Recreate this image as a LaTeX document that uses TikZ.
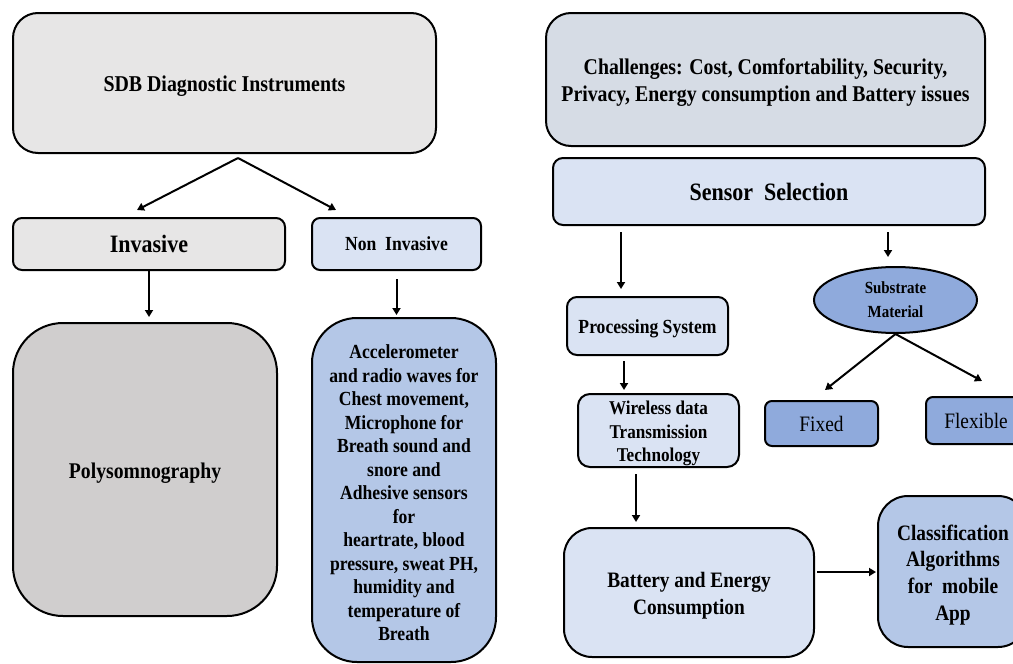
\documentclass[tikz,border=0pt]{standalone}
\usepackage{fontspec}
\setmainfont{Liberation Serif}[FakeStretch=0.88]
\usetikzlibrary{arrows.meta,shapes.geometric,calc}
\definecolor{greyA}{HTML}{E7E6E6}
\definecolor{greyB}{HTML}{D0CECE}
\definecolor{blueA}{HTML}{DAE3F3}
\definecolor{blueB}{HTML}{B4C7E7}
\definecolor{blueC}{HTML}{8FAADC}
\definecolor{slateA}{HTML}{D6DCE5}
\newcommand\fsz[2]{\fontsize{#1}{#2}\selectfont}
% a taller first line sets the text a little lower in its box
\newcommand\txtdrop{\rule{0pt}{1em}}
\begin{document}
\begin{tikzpicture}[x=1pt,y=-1pt,
  box/.style={draw=black, line width=2pt, align=center, inner sep=0pt,
    font=\bfseries, text=black},
  arr/.style={-{Triangle[length=7pt,width=8pt]}, line width=2pt}]
\useasboundingbox (0,0) rectangle (1013,664);
\clip (0,0) rectangle (1013,664);
\fill[white] (0,0) rectangle (1013,664);

% ---- left column: diagnostic instruments ----
\node[box, fill=greyA, rounded corners=25pt, minimum width=423pt, minimum height=140pt,
  font=\bfseries\fsz{22.6}{27}] (sdb) at (224.5,83) {\txtdrop SDB Diagnostic Instruments};
\node[box, fill=greyA, rounded corners=9pt, minimum width=272pt, minimum height=52pt,
  font=\bfseries\fsz{25}{30}] (inv) at (149,244) {Invasive};
\node[box, fill=blueA, rounded corners=8pt, minimum width=169pt, minimum height=52pt,
  font=\bfseries\fsz{20}{24}] (noninv) at (396.5,244) {Non\ \ Invasive};
\node[box, fill=greyB, rounded corners=50pt, minimum width=264pt, minimum height=293pt,
  font=\bfseries\fsz{22.4}{27}] (poly) at (145,469.5) {\txtdrop Polysomnography};
\node[box, fill=blueB, rounded corners=45pt, minimum width=184pt, minimum height=344pt,
  font=\bfseries\fsz{20}{23.5}] (acc) at (404,490)
  {\txtdrop Accelerometer\\and radio waves for\\Chest movement,\\Microphone for\\Breath sound and\\snore and\\Adhesive sensors\\for\\heartrate, blood\\pressure, sweat PH,\\humidity and\\temperature of\\Breath};

% ---- right column: sensor design ----
\node[box, fill=slateA, rounded corners=25pt, minimum width=439pt, minimum height=133pt,
  font=\bfseries\fsz{22.5}{27}] (chal) at (765.5,79.5)
  {\txtdrop Challenges: Cost, Comfortability, Security,\\Privacy, Energy consumption and Battery issues};
\node[box, fill=blueA, rounded corners=10pt, minimum width=432pt, minimum height=67pt,
  font=\bfseries\fsz{25}{30}] (sens) at (769,191.5) {Sensor\ \ Selection};
\node[box, ellipse, fill=blueC, minimum width=163pt, minimum height=66pt,
  font=\bfseries\fsz{17}{24}] (subs) at (895.5,300) {Substrate\\Material};
\node[box, fill=blueA, rounded corners=10pt, minimum width=161pt, minimum height=58pt,
  font=\bfseries\fsz{20}{23}] (proc) at (647.5,326) {\txtdrop Processing System};
\node[box, fill=blueA, rounded corners=12pt, minimum width=161pt, minimum height=73pt,
  font=\bfseries\fsz{19.5}{23.3}] (wire) at (658.5,430.5) {\txtdrop Wireless data\\Transmission\\Technology};
\node[box, fill=blueA, rounded corners=28pt, minimum width=250pt, minimum height=129pt,
  font=\bfseries\fsz{22}{26.7}] (batt) at (689,592.5) {\txtdrop Battery and Energy\\Consumption};
\node[box, fill=blueB, rounded corners=30pt, minimum width=150pt, minimum height=151pt,
  font=\bfseries\fsz{22}{26.7}] (clas) at (953,571.5) {\txtdrop Classification\\Algorithms\\for\ \ mobile\\App};
\node[box, fill=blueC, rounded corners=7pt, minimum width=113pt, minimum height=45pt,
  font=\fsz{22}{26}] (fixed) at (821.5,423.5) {Fixed};
\node[box, fill=blueC, rounded corners=7pt, minimum width=100pt, minimum height=47pt,
  font=\fsz{22}{26}] (flex) at (976,420.5) {Flexible};

% ---- connectors ----
\coordinate (apex) at ([xshift=13.5pt,yshift=-4pt]sdb.south);
\draw[arr] (apex) -- ([xshift=-12pt,yshift=7pt]inv.north);
\draw[arr] (apex) -- ([xshift=-60.5pt,yshift=7pt]noninv.north);
\draw[arr, shorten >=5pt] (inv.south) -- (inv.south |- poly.north);
\draw[arr, shorten <=8pt, shorten >=2pt] (noninv.south) -- (noninv.south |- acc.north);

\coordinate (p1) at ([xshift=-26.5pt]proc.north);
\draw[arr, shorten <=6pt, shorten >=7pt] (p1 |- sens.south) -- (p1);
\coordinate (s1) at ([xshift=-7.5pt]subs.north);
\draw[arr, shorten <=6pt, shorten >=9pt] (s1 |- sens.south) -- (s1);
\coordinate (w1) at ([xshift=-34.5pt]wire.north);
\draw[arr, shorten <=5pt, shorten >=3pt] (w1 |- proc.south) -- (w1);
\coordinate (b1) at ([xshift=-53pt]batt.north);
\draw[arr, shorten <=6pt, shorten >=5pt] (b1 |- wire.south) -- (b1);
\coordinate (c1) at ([yshift=20.5pt]batt.east);
\draw[arr, shorten <=2pt, shorten >=1pt] (c1) -- (c1 -| clas.west);
\draw[arr] (subs.south) -- ([xshift=3.5pt,yshift=10pt]fixed.north);
\draw[arr] (subs.south) -- ([xshift=6pt,yshift=15pt]flex.north);
\end{tikzpicture}
\end{document}
